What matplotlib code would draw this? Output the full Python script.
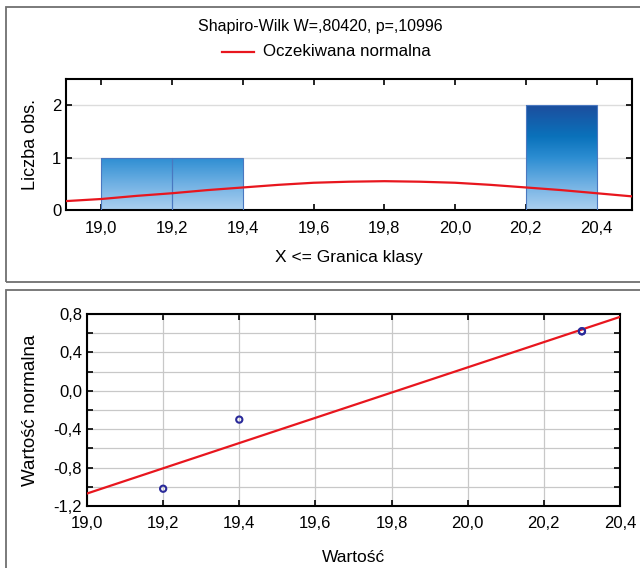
import matplotlib
matplotlib.use("Agg")
import matplotlib.pyplot as plt
import numpy as np
from matplotlib.colors import LinearSegmentedColormap
from matplotlib.patches import Rectangle
from matplotlib import font_manager

names = {f.name for f in font_manager.fontManager.ttflist}
fam = [f for f in ["Liberation Sans Narrow", "Liberation Sans", "DejaVu Sans"] if f in names]
plt.rcParams["font.family"] = fam
plt.rcParams["font.size"] = 11

# histogram (X <= class bound)
bin_left = [19.0, 19.2, 20.2]
bin_count = [1, 1, 2]
bin_width = 0.2

# expected normal curve
curve_x = [18.9, 19.0, 19.1, 19.2, 19.3, 19.4, 19.5, 19.6, 19.7, 19.8,
           19.9, 20.0, 20.1, 20.2, 20.3, 20.4, 20.5]
curve_y = [0.17, 0.21, 0.27, 0.32, 0.38, 0.43, 0.48, 0.52, 0.54, 0.55,
           0.54, 0.52, 0.48, 0.43, 0.38, 0.32, 0.26]

# normal probability plot
obs_value = [19.2, 19.4, 20.3, 20.3]
obs_normal = [-1.02, -0.30, 0.62, 0.62]
fit_x = [19.0, 20.4]
fit_y = [-1.07, 0.77]

title = "Shapiro-Wilk W=,80420, p=,10996"

def comma(v, p):
    return ("%.1f" % v).replace(".", ",")

W, H = 640, 568
fig = plt.figure(figsize=(6.4, 5.68), dpi=100)

def px(x0, y0, x1, y1):
    return [x0 / W, 1 - y1 / H, (x1 - x0) / W, (y1 - y0) / H]

# panel frames
for y0, y1 in [(7, 282), (290, 620)]:
    fig.patches.append(Rectangle((6 / W, 1 - y1 / H), 700 / W, (y1 - y0) / H,
                                 transform=fig.transFigure, fill=False,
                                 edgecolor="#707070", lw=1.3))

blues = LinearSegmentedColormap.from_list("bars", [
    (0.0, "#acd0f0"), (0.25, "#6fb0e3"), (0.5, "#2c8dd2"),
    (0.7, "#0a72bb"), (1.0, "#1c4e9e")])

# top: histogram
ax = fig.add_axes(px(66, 79, 632, 210))
for y in [1, 2]:
    ax.axhline(y, color="#dcdcdc", lw=1, zorder=0)
for x, c in zip(bin_left, bin_count):
    bar = ax.bar(x, c, width=bin_width, align="edge", facecolor="none",
                 edgecolor="#4a78c0", lw=0.8, zorder=3)[0]
    grad = np.linspace(c, 0, 200).reshape(-1, 1)
    im = ax.imshow(grad, extent=(x, x + bin_width, 0, c), aspect="auto",
                   cmap=blues, vmin=0, vmax=2, zorder=2)
    im.set_clip_path(bar)
ax.plot(curve_x, curve_y, color="#e8161e", lw=1.6, zorder=4)
ax.set_xlim(18.9, 20.5)
ax.set_ylim(0, 2.5)
ax.set_xticks([19.0, 19.2, 19.4, 19.6, 19.8, 20.0, 20.2, 20.4])
ax.set_yticks([0, 1, 2])
ax.xaxis.set_major_formatter(comma)
ax.yaxis.set_major_formatter(lambda v, p: "%d" % v)
ax.tick_params(direction="in", top=True, right=True, length=4, width=1.2, labelsize=12)
ax.tick_params(axis="x", pad=8)
for s in ax.spines.values():
    s.set_linewidth(1.5)
ax.set_xlabel("X <= Granica klasy", fontsize=12.5, labelpad=10)
ax.set_ylabel("Liczba obs.", fontsize=13)
ax.yaxis.set_label_coords(-0.048, 0.5)
fig.text(320 / W, 1 - 27 / H, title, ha="center", va="center", fontsize=11.5)
fig.lines.append(plt.Line2D([222 / W, 254 / W], [1 - 52 / H, 1 - 52 / H],
                            transform=fig.transFigure, color="#e8161e", lw=1.6))
fig.text(263 / W, 1 - 52 / H, "Oczekiwana normalna", ha="left", va="center", fontsize=12.2)

# bottom: normal probability plot
ax2 = fig.add_axes(px(87, 314, 620, 506))
ax2.plot(fit_x, fit_y, color="#e8161e", lw=1.6, zorder=3)
ax2.scatter(obs_value, obs_normal, s=20, facecolor="none", edgecolor="#2a2a9a",
            lw=1.5, zorder=4)
ax2.set_xlim(19.0, 20.4)
ax2.set_ylim(-1.2, 0.8)
ax2.set_xticks(np.arange(19.0, 20.41, 0.2))
ax2.set_yticks(np.arange(-1.2, 0.81, 0.4))
ax2.set_yticks(np.arange(-1.0, 0.81, 0.4), minor=True)
ax2.xaxis.set_major_formatter(comma)
ax2.yaxis.set_major_formatter(comma)
ax2.grid(True, which="both", color="#c8c8c8", lw=0.9)
ax2.set_axisbelow(True)
ax2.tick_params(which="both", direction="in", top=True, right=True, length=4,
                width=1.2, labelsize=12)
ax2.tick_params(axis="x", pad=7)
for s in ax2.spines.values():
    s.set_linewidth(1.5)
ax2.set_xlabel("Wartość", fontsize=12.5, labelpad=14)
ax2.set_ylabel("Wartość normalna", fontsize=13.5)
ax2.yaxis.set_label_coords(-0.090, 0.5)

fig.savefig("out.png", dpi=100)
